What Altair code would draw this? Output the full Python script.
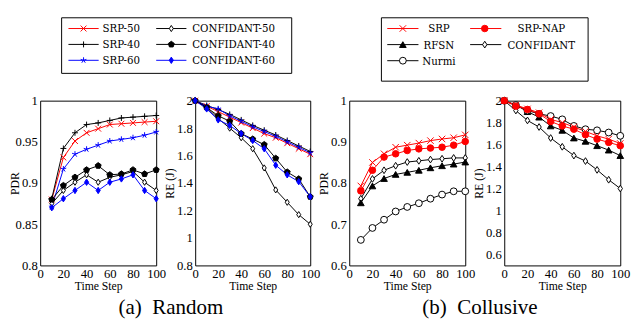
import altair as alt
import pandas as pd

# ---------------- data ----------------
t10 = [10, 20, 30, 40, 50, 60, 70, 80, 90, 100]
t0 = [0, 10, 20, 30, 40, 50, 60, 70, 80, 90, 100]

# (a) Random - PDR
srp50_pdr = [0.880, 0.931, 0.951, 0.961, 0.966, 0.971, 0.972, 0.973, 0.974, 0.975]
srp40_pdr = [0.881, 0.942, 0.961, 0.971, 0.973, 0.976, 0.979, 0.980, 0.981, 0.982]
srp60_pdr = [0.871, 0.917, 0.935, 0.941, 0.946, 0.951, 0.953, 0.955, 0.958, 0.962]
conf50_pdr = [0.875, 0.891, 0.901, 0.910, 0.901, 0.907, 0.910, 0.914, 0.901, 0.891]
conf40_pdr = [0.880, 0.897, 0.907, 0.916, 0.921, 0.910, 0.911, 0.916, 0.911, 0.916]
conf60_pdr = [0.870, 0.881, 0.891, 0.901, 0.891, 0.901, 0.905, 0.910, 0.891, 0.881]

# (a) Random - RE
srp50_re = [2.00, 1.96, 1.92, 1.88, 1.84, 1.80, 1.76, 1.73, 1.69, 1.65, 1.61]
srp40_re = [2.00, 1.965, 1.935, 1.90, 1.86, 1.82, 1.785, 1.75, 1.71, 1.67, 1.63]
srp60_re = [2.00, 1.96, 1.94, 1.89, 1.85, 1.81, 1.775, 1.74, 1.70, 1.66, 1.62]
conf50_re = [2.00, 1.95, 1.87, 1.80, 1.73, 1.65, 1.51, 1.35, 1.26, 1.17, 1.10]
conf40_re = [2.00, 1.95, 1.89, 1.85, 1.76, 1.72, 1.68, 1.58, 1.48, 1.43, 1.30]
conf60_re = [2.00, 1.94, 1.86, 1.82, 1.76, 1.71, 1.65, 1.53, 1.46, 1.41, 1.30]

# (b) Collusive - PDR
srp_pdr_c = [0.793, 0.850, 0.871, 0.887, 0.892, 0.897, 0.903, 0.907, 0.910, 0.917]
nap_pdr_c = [0.781, 0.831, 0.863, 0.871, 0.879, 0.883, 0.885, 0.887, 0.892, 0.901]
rfsn_pdr_c = [0.752, 0.793, 0.811, 0.821, 0.826, 0.831, 0.837, 0.842, 0.846, 0.851]
conf_pdr_c = [0.762, 0.810, 0.831, 0.842, 0.851, 0.854, 0.857, 0.859, 0.861, 0.861]
nurmi_pdr_c = [0.662, 0.691, 0.711, 0.731, 0.742, 0.751, 0.762, 0.772, 0.780, 0.780]

# (b) Collusive - RE
srp_re_c = [2.00, 1.96, 1.925, 1.89, 1.83, 1.80, 1.76, 1.72, 1.68, 1.65, 1.61]
nap_re_c = [2.00, 1.95, 1.92, 1.88, 1.81, 1.77, 1.74, 1.69, 1.65, 1.62, 1.59]
rfsn_re_c = [2.00, 1.96, 1.90, 1.85, 1.77, 1.73, 1.66, 1.63, 1.59, 1.55, 1.50]
conf_re_c = [2.00, 1.91, 1.82, 1.76, 1.66, 1.58, 1.50, 1.45, 1.37, 1.28, 1.20]
nurmi_re_c = [2.00, 1.96, 1.91, 1.88, 1.86, 1.83, 1.77, 1.74, 1.73, 1.71, 1.68]

captions = ["(a)\u2002Random", "(b)\u2002Collusive"]
x_title = "Time Step"

leg_a_names = ["SRP-50", "SRP-40", "SRP-60", "CONFIDANT-50", "CONFIDANT-40", "CONFIDANT-60"]
leg_a_col = [0, 0, 0, 1, 1, 1]
leg_a_row = [0, 1, 2, 0, 1, 2]
leg_b_names = ["SRP", "SRP-NAP", "RFSN", "CONFIDANT", "Nurmi"]
leg_b_col = [0, 1, 0, 1, 0]
leg_b_row = [0, 0, 1, 1, 2]

# ---------------- styles ----------------
names = ["SRP-50", "SRP-40", "SRP-60", "CONFIDANT-50", "CONFIDANT-40", "CONFIDANT-60",
         "SRP", "SRP-NAP", "RFSN", "CONFIDANT", "Nurmi"]
X_PATH = "M-1,-1L1,1M-1,1L1,-1"
PLUS_PATH = "M-1,0L1,0M0,-1L0,1"
STAR_PATH = "M0,0L0,-1M0,0L0.951,-0.309M0,0L0.588,0.809M0,0L-0.588,0.809M0,0L-0.951,-0.309"
DIAMOND_PATH = "M0,-1L0.65,0L0,1L-0.65,0Z"
PENTAGON_PATH = "M0,-1L0.951,-0.309L0.588,0.809L-0.588,0.809L-0.951,-0.309Z"
RED, BLUE, BLACK, WHITE = "#ff0000", "#0000ff", "#000000", "#ffffff"
stroke_colors = [RED, BLACK, BLUE, BLACK, BLACK, BLUE, RED, RED, BLACK, BLACK, BLACK]
fill_colors = [RED, BLACK, BLUE, WHITE, BLACK, BLUE, RED, RED, BLACK, WHITE, WHITE]
shapes = [X_PATH, PLUS_PATH, STAR_PATH, DIAMOND_PATH, PENTAGON_PATH, DIAMOND_PATH,
          X_PATH, "circle", "triangle-up", DIAMOND_PATH, "circle"]
sizes = [36, 49, 49, 42, 64, 42, 36, 72, 49, 42, 52]

AXFONT = "Liberation Serif"
LEGFONT = "DejaVu Serif"
H = 169

color_scale = alt.Scale(domain=names, range=stroke_colors)
stroke_scale = alt.Scale(domain=names, range=stroke_colors)
fill_scale = alt.Scale(domain=names, range=fill_colors)
shape_scale = alt.Scale(domain=names, range=shapes)
size_scale = alt.Scale(domain=names, range=sizes)

AXIS_TEXT = dict(labelFont=AXFONT, labelFontSize=13, labelColor="black",
                 titleFont=AXFONT, titleFontSize=12, titleFontWeight="normal",
                 titleColor="black", domain=False, ticks=False, grid=False,
                 labelOverlap=False, labelFlush=False)


def make_df(series, ts):
    rows = []
    for name, vals in series:
        for t, v in zip(ts, vals):
            rows.append({"s": name, "t": t, "v": v})
    return pd.DataFrame(rows)


def point_enc():
    return dict(
        shape=alt.Shape("s:N", scale=shape_scale, legend=None),
        fill=alt.Fill("s:N", scale=fill_scale, legend=None),
        stroke=alt.Stroke("s:N", scale=stroke_scale, legend=None),
        size=alt.Size("s:N", scale=size_scale, legend=None),
    )


def legend_layers(lnames, lcols, lrows, box, lx0, lx1, lxstep, mx, mxstep, tx, txstep,
                  ly, lystep, talign):
    df = pd.DataFrame({"s": lnames, "col": lcols, "row": lrows})
    base = alt.Chart(df).transform_calculate(
        lx0=f"{lx0} + datum.col * {lxstep}",
        lx1=f"{lx1} + datum.col * {lxstep}",
        mx=f"{mx} + datum.col * {mxstep}",
        tx=f"{tx} + datum.col * {txstep}",
        ly=f"{ly} + datum.row * {lystep}",
    )
    frame = alt.Chart(pd.DataFrame({"k": [0]})).mark_rect(
        fill="transparent", stroke="black", strokeWidth=1
    ).encode(x=alt.value(box[0]), x2=alt.value(box[1]),
             y=alt.value(box[2]), y2=alt.value(box[3]))
    rules = base.mark_rule(strokeWidth=1).encode(
        x=alt.X("lx0:Q", scale=None, axis=None), x2="lx1:Q",
        y=alt.Y("ly:Q", scale=None, axis=None),
        color=alt.Color("s:N", scale=color_scale, legend=None),
    )
    pts = base.mark_point(filled=True, opacity=1, strokeWidth=1).encode(
        x=alt.X("mx:Q", scale=None, axis=None), y=alt.Y("ly:Q", scale=None, axis=None),
        **point_enc())
    txt = base.mark_text(font=LEGFONT, fontSize=10.5, align=talign,
                         baseline="middle", dy=1, color="black").encode(
        x=alt.X("tx:Q", scale=None, axis=None), y=alt.Y("ly:Q", scale=None, axis=None),
        text="s:N")
    return [frame, rules, pts, txt]


def caption_layer(text):
    return alt.Chart(pd.DataFrame({"c": [text]})).mark_text(
        font="Liberation Serif", fontSize=21.5, align="center", baseline="middle",
        color="black"
    ).encode(x=alt.value(134), y=alt.value(H + 44), text="c:N")


def panel(df, ydomain, yticks, ytitle, width, extra=()):
    base = alt.Chart(df).encode(
        x=alt.X("t:Q", scale=alt.Scale(domain=[0, 100], nice=False),
                axis=alt.Axis(values=[0, 20, 40, 60, 80, 100], title=x_title,
                              labelPadding=2, titlePadding=1, **AXIS_TEXT)),
        y=alt.Y("v:Q", scale=alt.Scale(domain=ydomain, nice=False, zero=False),
                axis=alt.Axis(values=yticks, title=ytitle, format="~g",
                              labelPadding=3, titleAngle=270, titleBaseline="bottom",
                              titleX=-19, titleY=H / 2, titleAlign="center",
                              **AXIS_TEXT)),
    )
    line = base.mark_line(strokeWidth=1).encode(
        color=alt.Color("s:N", scale=color_scale, legend=None),
        detail="s:N",
    )
    pts = base.mark_point(filled=True, opacity=1, strokeWidth=1).encode(**point_enc())
    return alt.layer(line, pts, *extra).properties(
        width=width, height=H,
        view=alt.ViewBackground(stroke="black", strokeWidth=1),
    )


df1 = make_df([("SRP-50", srp50_pdr), ("SRP-40", srp40_pdr), ("SRP-60", srp60_pdr),
               ("CONFIDANT-50", conf50_pdr), ("CONFIDANT-40", conf40_pdr),
               ("CONFIDANT-60", conf60_pdr)], t10)
df2 = make_df([("SRP-50", srp50_re), ("SRP-40", srp40_re), ("SRP-60", srp60_re),
               ("CONFIDANT-50", conf50_re), ("CONFIDANT-40", conf40_re),
               ("CONFIDANT-60", conf60_re)], t0)
df3 = make_df([("Nurmi", nurmi_pdr_c), ("CONFIDANT", conf_pdr_c), ("RFSN", rfsn_pdr_c),
               ("SRP-NAP", nap_pdr_c), ("SRP", srp_pdr_c)], t10)
df4 = make_df([("CONFIDANT", conf_re_c), ("RFSN", rfsn_re_c), ("Nurmi", nurmi_re_c),
               ("SRP-NAP", nap_re_c), ("SRP", srp_re_c)], t0)

leg_a = legend_layers(leg_a_names, leg_a_col, leg_a_row, (22, 258, -85, -28),
                      29, 60, 90, 44.5, 90, 64, 92, -74, 16.3, "left")
leg_b = legend_layers(leg_b_names, leg_b_col, leg_b_row, (33, 245, -85, -20),
                      39, 71, 85, 55, 84, 92, 105, -74, 16.5, "center")

p1 = panel(df1, [0.8, 1.0], [0.8, 0.85, 0.9, 0.95, 1.0], "PDR", 119,
           extra=leg_a + [caption_layer(captions[0])])
p2 = panel(df2, [0.8, 2.0], [0.8, 1.0, 1.2, 1.4, 1.6, 1.8, 2.0], "RE (J)", 118)
p3 = panel(df3, [0.6, 1.0], [0.6, 0.7, 0.8, 0.9, 1.0], "PDR", 119,
           extra=leg_b + [caption_layer(captions[1])])
p4 = panel(df4, [0.5, 2.0], [0.6, 0.8, 1.0, 1.2, 1.4, 1.6, 1.8, 2.0], "RE (J)", 119)

chart = alt.hconcat(p1, p2, p3, p4, spacing=40, bounds="flush").properties(
    padding={"left": 0, "top": 5, "right": 0, "bottom": 0}
).configure_view(stroke="transparent").configure_axis(**AXIS_TEXT)

chart.save("out.html", embed_options={"renderer": "svg", "actions": False})
